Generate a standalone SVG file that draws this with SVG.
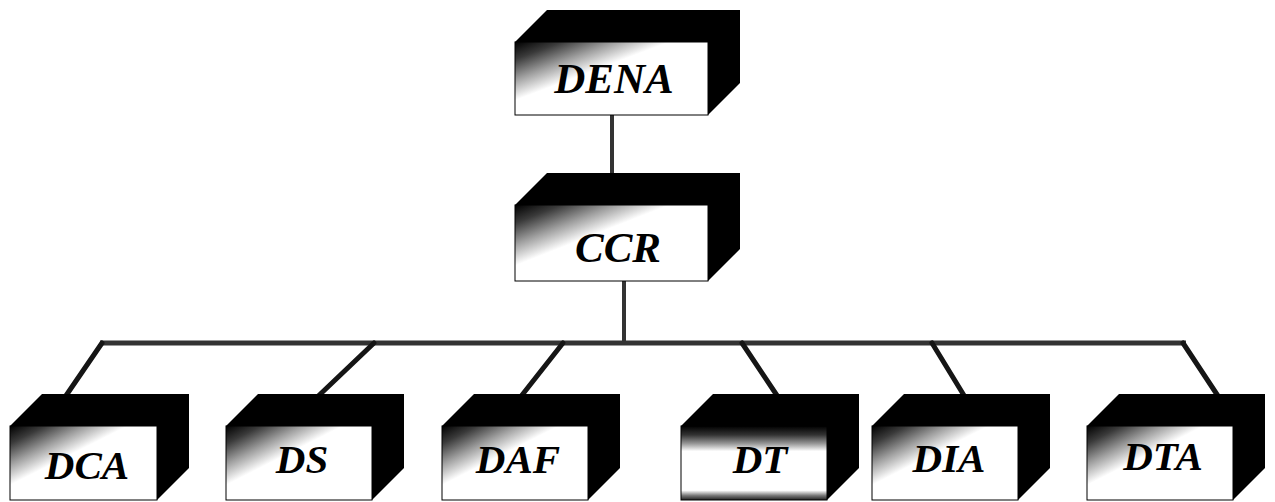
<svg xmlns="http://www.w3.org/2000/svg" width="1275" height="502" viewBox="0 0 1275 502">
  <defs>
    <!-- front face: dark corner at top-left fading to white -->
    <linearGradient id="faceShade" x1="0" y1="0" x2="1" y2="1">
      <stop offset="0" stop-color="#000"/>
      <stop offset="0.12" stop-color="#3a3a3a"/>
      <stop offset="0.26" stop-color="#a0a0a0"/>
      <stop offset="0.4" stop-color="#fff"/>
      <stop offset="1" stop-color="#fff"/>
    </linearGradient>
    <!-- front face shaded along top and bottom edges -->
    <linearGradient id="faceShadeBand" x1="0" y1="0" x2="0" y2="1">
      <stop offset="0" stop-color="#000"/>
      <stop offset="0.12" stop-color="#333"/>
      <stop offset="0.24" stop-color="#999"/>
      <stop offset="0.34" stop-color="#fff"/>
      <stop offset="0.87" stop-color="#fff"/>
      <stop offset="0.94" stop-color="#777"/>
      <stop offset="1" stop-color="#222"/>
    </linearGradient>
  </defs>
  <style>
    .solid { fill: #000; }
    .face { fill: url(#faceShade); stroke: #000; stroke-width: 1; }
    .faceBand { fill: url(#faceShadeBand); stroke: #000; stroke-width: 1; }
    .label { font-family: "Liberation Serif", "DejaVu Serif", serif; font-weight: bold; font-style: italic; fill: #000; text-anchor: middle; }
    .big { font-size: 43px; }
    .small { font-size: 41px; }
    .bus { stroke: #333; stroke-width: 5; fill: none; stroke-linecap: butt; }
    .stem { stroke: #333; stroke-width: 4; fill: none; }
    .branch { stroke: #151515; stroke-width: 5; fill: none; stroke-linecap: round; }
  </style>

  <rect width="1275" height="502" fill="#fff"/>

  <!-- connectors -->
  <g id="connectors">
    <line class="stem" x1="612" y1="115" x2="612" y2="174"/>
    <line class="stem" x1="624" y1="281" x2="624" y2="341"/>
    <line class="bus" x1="100" y1="343" x2="1186" y2="343"/>
    <line class="branch" x1="102" y1="343" x2="63" y2="400"/>
    <line class="branch" x1="374" y1="343" x2="312" y2="402"/>
    <line class="branch" x1="563" y1="343" x2="515" y2="404"/>
    <line class="branch" x1="742" y1="343" x2="782" y2="403"/>
    <line class="branch" x1="932" y1="343" x2="968" y2="402"/>
    <line class="branch" x1="1183" y1="343" x2="1218" y2="396"/>
  </g>

  <!-- top level -->
  <g id="node-dena">
    <path class="solid" d="M515,42 L547,10 L740,10 L740,83 L708,115 L708,42 Z"/>
    <rect class="face" x="515" y="42" width="193" height="73"/>
    <text class="label big" x="614" y="93">DENA</text>
  </g>

  <g id="node-ccr">
    <path class="solid" d="M515,205 L547,173 L740,173 L740,249 L708,281 L708,205 Z"/>
    <rect class="face" x="515" y="205" width="193" height="76"/>
    <text class="label big" x="618" y="262">CCR</text>
  </g>

  <!-- directorates -->
  <g id="node-dca">
    <path class="solid" d="M10,426 L42,394 L189,394 L189,468 L157,500 L157,426 Z"/>
    <rect class="face" x="10" y="426" width="147" height="74"/>
    <text class="label small" x="87" y="479">DCA</text>
  </g>

  <g id="node-ds">
    <path class="solid" d="M226,426 L258,394 L404,394 L404,468 L372,500 L372,426 Z"/>
    <rect class="face" x="226" y="426" width="146" height="74"/>
    <text class="label small" x="302" y="473">DS</text>
  </g>

  <g id="node-daf">
    <path class="solid" d="M442,426 L474,394 L620,394 L620,468 L588,500 L588,426 Z"/>
    <rect class="face" x="442" y="426" width="146" height="74"/>
    <text class="label small" x="518" y="473">DAF</text>
  </g>

  <g id="node-dt">
    <path class="solid" d="M681,426 L713,394 L859,394 L859,468 L827,500 L827,426 Z"/>
    <rect class="faceBand" x="681" y="426" width="146" height="74"/>
    <text class="label small" x="760" y="473">DT</text>
  </g>

  <g id="node-dia">
    <path class="solid" d="M872,426 L904,394 L1050,394 L1050,468 L1018,500 L1018,426 Z"/>
    <rect class="face" x="872" y="426" width="146" height="74"/>
    <text class="label small" x="949" y="472">DIA</text>
  </g>

  <g id="node-dta">
    <path class="solid" d="M1087,426 L1119,394 L1265,394 L1265,468 L1233,500 L1233,426 Z"/>
    <rect class="face" x="1087" y="426" width="146" height="74"/>
    <text class="label small" x="1163" y="470">DTA</text>
  </g>
</svg>
